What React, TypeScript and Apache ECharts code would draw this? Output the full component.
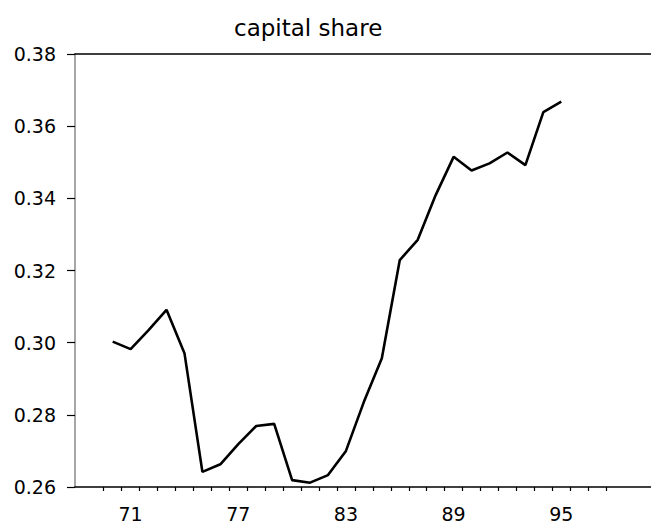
import React, { useEffect, useRef } from "react";
import * as echarts from "echarts";

const years = [
  1970, 1971, 1972, 1973, 1974, 1975, 1976, 1977, 1978, 1979, 1980, 1981, 1982,
  1983, 1984, 1985, 1986, 1987, 1988, 1989, 1990, 1991, 1992, 1993, 1994, 1995,
];
const capitalShare = [
  0.3003, 0.2982, 0.3035, 0.3091, 0.2971, 0.2642, 0.2663, 0.2719, 0.2769,
  0.2775, 0.2619, 0.2612, 0.2633, 0.27, 0.2836, 0.2957, 0.3229, 0.3285, 0.3409,
  0.3515, 0.3477, 0.3497, 0.3527, 0.3492, 0.3639, 0.3668,
];
const xLabelYears = [1971, 1977, 1983, 1989, 1995];
const xLabelTexts = ["71", "77", "83", "89", "95"];
const yTickValues = [0.26, 0.28, 0.3, 0.32, 0.34, 0.36, 0.38];
const titleText = "capital share";

const FONT = "DejaVu Sans";

export default function App() {
  const ref = useRef<HTMLDivElement>(null);
  useEffect(() => {
    if (!ref.current) return;
    const chart = echarts.init(ref.current, null, { renderer: "svg" });
    const tickPositions: number[] = [];
    for (let y = 1969.5; y <= 1997.5; y += 1) tickPositions.push(y);
    const xMin = 1967.9;
    const xMax = 2000;
    chart.setOption({
      animation: false,
      backgroundColor: "#fff",
      title: {
        text: titleText,
        left: 229,
        top: 11,
        textStyle: {
          fontFamily: FONT,
          fontSize: 23,
          fontWeight: "normal",
          color: "#000",
        },
      },
      grid: { left: 75, right: 0, top: 54, bottom: 40 },
      xAxis: [
        {
          type: "value",
          position: "bottom",
          min: xMin,
          max: xMax,
          axisLine: { show: true, onZero: false, lineStyle: { color: "#000", width: 1.5 } },
          axisTick: {
            show: true,
            customValues: tickPositions,
            length: 4,
            lineStyle: { color: "#000", width: 1.2 },
          },
          axisLabel: {
            customValues: xLabelYears,
            formatter: (v: number) => {
              const i = xLabelYears.indexOf(Math.round(v));
              return i >= 0 ? xLabelTexts[i] : "";
            },
            margin: 17,
            fontFamily: FONT,
            fontSize: 19,
            color: "#000",
          },
          splitLine: { show: false },
        },
        {
          type: "value",
          position: "top",
          min: xMin,
          max: xMax,
          axisLine: { show: true, onZero: false, lineStyle: { color: "#000", width: 1.5 } },
          axisTick: { show: false },
          axisLabel: { show: false },
          splitLine: { show: false },
        },
      ],
      yAxis: {
        type: "value",
        min: 0.26,
        max: 0.38,
        interval: 0.02,
        axisLine: { show: true, onZero: false, lineStyle: { color: "#888", width: 1.5 } },
        axisTick: {
          show: true,
          customValues: yTickValues,
          length: 8,
          lineStyle: { color: "#000", width: 1.2 },
        },
        axisLabel: {
          customValues: yTickValues,
          formatter: (v: number) => v.toFixed(2),
          margin: 19,
          fontFamily: FONT,
          fontSize: 19,
          color: "#000",
        },
        splitLine: { show: false },
      },
      series: [
        {
          type: "line",
          xAxisIndex: 0,
          data: years.map((y, i) => [y, capitalShare[i]]),
          showSymbol: false,
          lineStyle: { color: "#000", width: 2.6 },
        },
      ],
    });
    return () => chart.dispose();
  }, []);
  return (
    <div
      ref={ref}
      style={{ position: "absolute", left: 0, top: 0, width: 651, height: 527 }}
    />
  );
}
